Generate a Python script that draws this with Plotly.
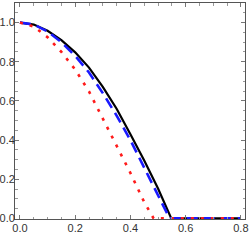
import plotly.graph_objects as go

# Curves
x_black = [0.0, 0.05, 0.1, 0.15, 0.2, 0.25, 0.3, 0.35, 0.4, 0.45, 0.5, 0.525, 0.548, 0.8]
y_black = [1.0, 0.99, 0.958, 0.91, 0.848, 0.77, 0.672, 0.56, 0.43, 0.296, 0.153, 0.076, 0.0, 0.0]

x_blue = [0.0, 0.05, 0.1, 0.15, 0.2, 0.25, 0.3, 0.35, 0.4, 0.45, 0.5, 0.542, 0.8]
y_blue = [1.0, 0.99, 0.955, 0.9, 0.83, 0.745, 0.64, 0.525, 0.4, 0.262, 0.12, 0.0, 0.0]

x_red = [0.0, 0.05, 0.1, 0.15, 0.2, 0.25, 0.3, 0.35, 0.4, 0.45, 0.484, 0.8]
y_red = [1.0, 0.98, 0.925, 0.85, 0.76, 0.648, 0.51, 0.372, 0.232, 0.083, 0.0, 0.0]

x_ticks = [0.0, 0.2, 0.4, 0.6, 0.8]
x_labels = ["0.0", "0.2", "0.4", "0.6", "0.8"]
y_ticks = [0.0, 0.2, 0.4, 0.6, 0.8, 1.0]
y_labels = ["0.0", "0.2", "0.4", "0.6", "0.8", "1.0"]

fig = go.Figure()
fig.add_trace(go.Scatter(x=x_black, y=y_black, mode="lines",
                         line=dict(color="black", width=2.2)))
fig.add_trace(go.Scatter(x=x_blue, y=y_blue, mode="lines",
                         line=dict(color="#1a1aff", width=2.6, dash="11px,6px")))
fig.add_trace(go.Scatter(x=x_red, y=y_red, mode="lines",
                         line=dict(color="#ff1a1a", width=2.6, dash="3px,7px")))

font = dict(family="Liberation Sans Narrow, Liberation Sans, Arial", size=11, color="#333333")
axis_common = dict(showline=True, linecolor="#555555", linewidth=1, mirror="ticks",
                   ticks="inside", ticklen=4, tickcolor="#777777", tickwidth=1,
                   showgrid=False, zeroline=False, tickfont=font, automargin=False)

fig.update_xaxes(range=[-0.018, 0.815], tickvals=x_ticks, ticktext=x_labels,
                 ticklabelstandoff=-1,
                 minor=dict(dtick=0.05, ticks="inside", ticklen=2.5, tickcolor="#999999", showgrid=False),
                 **axis_common)
fig.update_yaxes(range=[-0.003, 1.1], tickvals=y_ticks, ticktext=y_labels,
                 ticklabelstandoff=-3,
                 minor=dict(dtick=0.05, ticks="inside", ticklen=2.5, tickcolor="#999999", showgrid=False),
                 **axis_common)

fig.update_layout(width=249, height=240, margin=dict(l=15, r=4, t=3, b=21),
                  paper_bgcolor="white", plot_bgcolor="white", showlegend=False)

fig.write_html("out.html", config={"displayModeBar": False},
               post_script="document.body.style.margin='0px';document.body.style.overflow='hidden';")
